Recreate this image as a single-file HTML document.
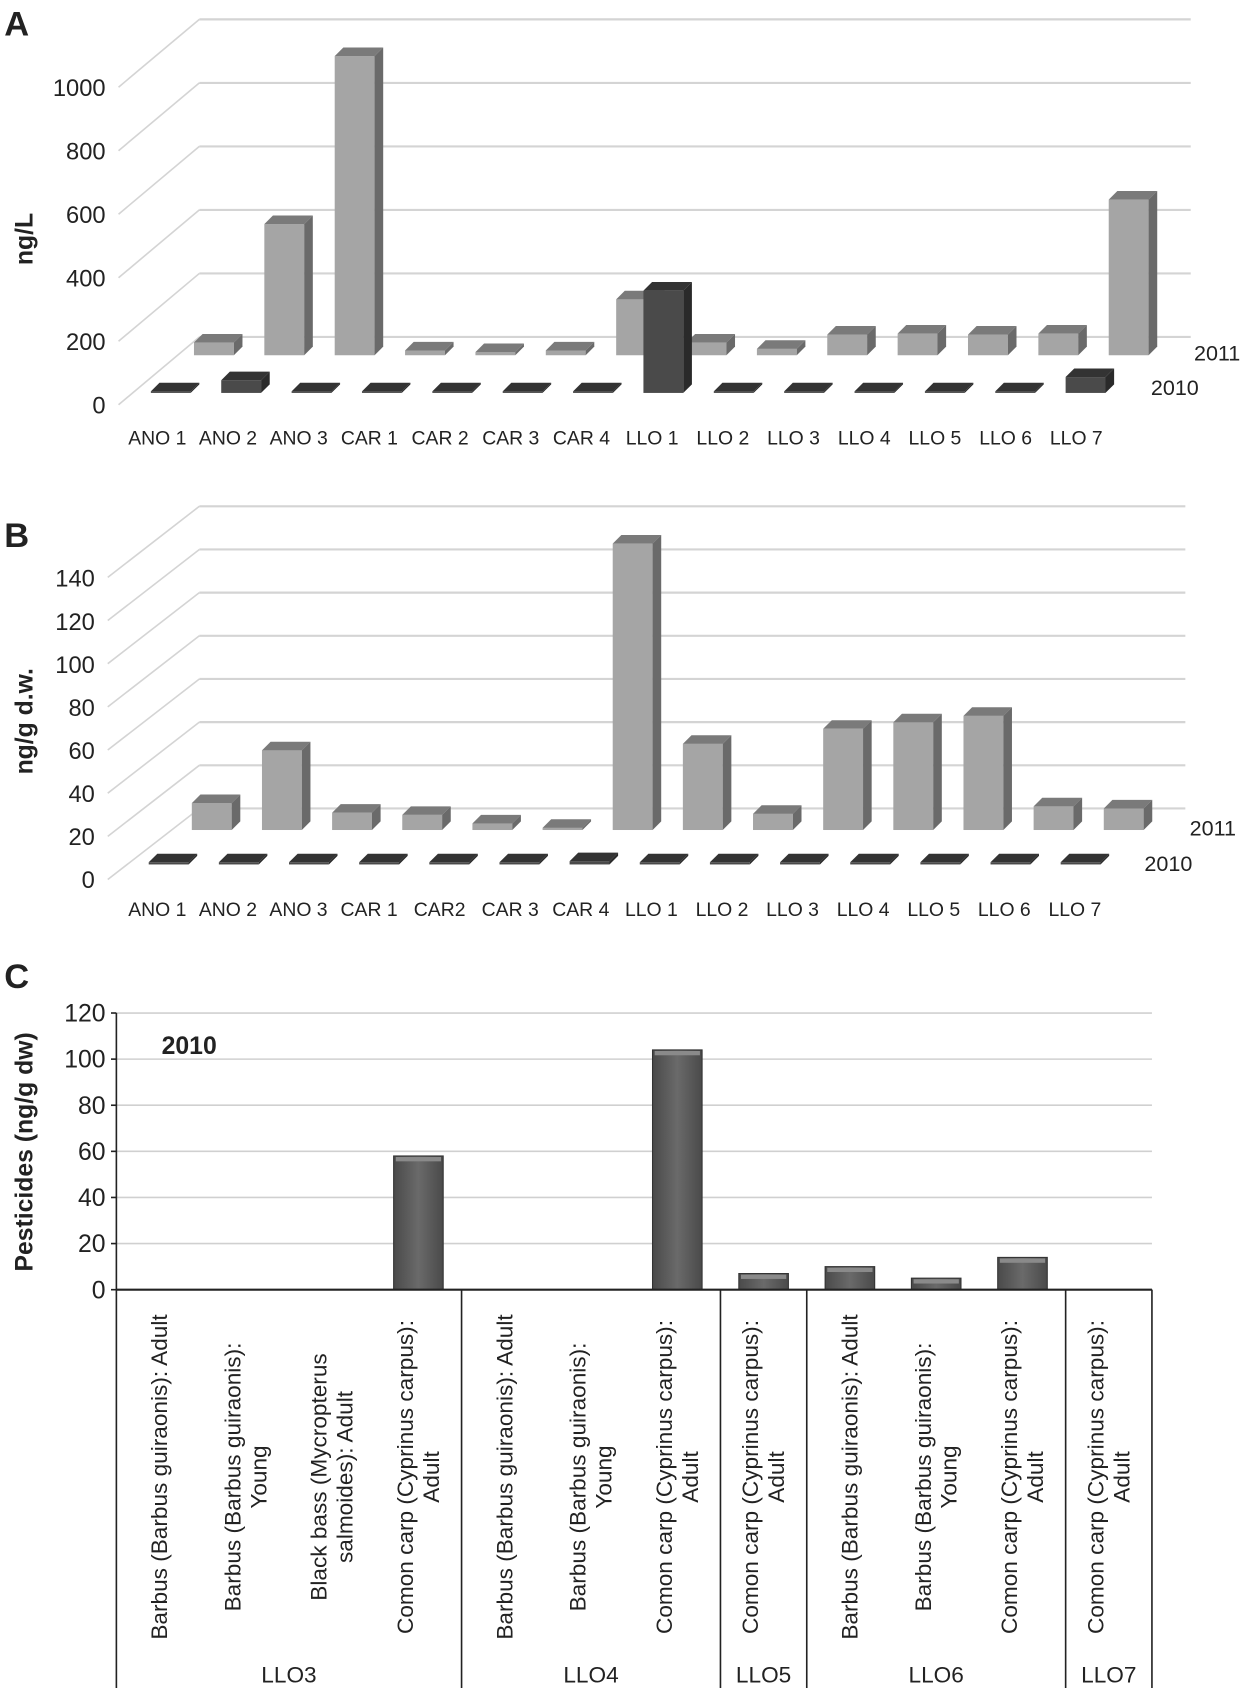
<!DOCTYPE html>
<html><head><meta charset="utf-8"><style>
html,body{margin:0;padding:0;background:#fff}
svg{display:block}
text{font-family:"Liberation Sans Narrow","Liberation Sans",sans-serif;fill:#222}
.b{font-family:"Liberation Sans",sans-serif;font-weight:bold}
</style></head><body>
<svg id="fig" width="1250" height="1688" viewBox="0 0 1160 1568" preserveAspectRatio="none" xmlns="http://www.w3.org/2000/svg">
<text class="b" x="4" y="33" font-size="32">A</text>
<text class="b" x="4" y="508" font-size="32">B</text>
<text class="b" x="4" y="918" font-size="32">C</text>
<g id="chartA"></g>
<g id="chartB"></g>
<g id="chartC"></g>
</svg>
<script>
// ---- Chart A data ----
const catsA = ["ANO 1","ANO 2","ANO 3","CAR 1","CAR 2","CAR 3","CAR 4","LLO 1","LLO 2","LLO 3","LLO 4","LLO 5","LLO 6","LLO 7"];
const a2011 = [40,413,942,15,10,15,176,40,20,65,68,65,68,490];
const a2010 = [5,40,5,5,5,5,5,322,5,5,5,5,5,50];
const ticksA = [0,200,400,600,800,1000];
// ---- Chart B data ----
const catsB = ["ANO 1","ANO 2","ANO 3","CAR 1","CAR2","CAR 3","CAR 4","LLO 1","LLO 2","LLO 3","LLO 4","LLO 5","LLO 6","LLO 7"];
const b2011 = [12.5,37,8,7,3,1,133,40,7.5,47,50,53,11,10];
const b2010 = [1,1,1,1,1,1,1.5,1,1,1,1,1,1,1];
const ticksB = [0,20,40,60,80,100,120,140];
// ---- Chart C data ----
const catsC = ["Barbus (Barbus guiraonis): Adult","Barbus (Barbus guiraonis):|Young","Black bass (Mycropterus|salmoides): Adult","Comon carp (Cyprinus carpus):|Adult","Barbus (Barbus guiraonis): Adult","Barbus (Barbus guiraonis):|Young","Comon carp (Cyprinus carpus):|Adult","Comon carp (Cyprinus carpus):|Adult","Barbus (Barbus guiraonis): Adult","Barbus (Barbus guiraonis):|Young","Comon carp (Cyprinus carpus):|Adult","Comon carp (Cyprinus carpus):|Adult"];
const valsC = [0,0,0,58,0,0,104,7,10,5,14,0];
const groupsC = ["LLO3","LLO4","LLO5","LLO6","LLO7"];
const groupSizesC = [4,3,1,3,1];
const ticksC = [0,20,40,60,80,100,120];

const NS="http://www.w3.org/2000/svg";
function mk(parent,tag,attrs,txt){const e=document.createElementNS(NS,tag);for(const k in attrs)e.setAttribute(k,attrs[k]);if(txt!==undefined)e.textContent=txt;parent.appendChild(e);return e;}

function bar3d(g,x,base,w,h,d,cf,ct,cs,name){
  const grp=mk(g,"g",{});
  
  
  const t=base-h;
  mk(grp,"rect",{x:x,y:t,width:w,height:Math.max(h,0.5),fill:cf});
  mk(grp,"polygon",{points:`${x},${t} ${x+d},${t-d} ${x+w+d},${t-d} ${x+w},${t}`,fill:ct});
  mk(grp,"polygon",{points:`${x+w},${t} ${x+w+d},${t-d} ${x+w+d},${base-d} ${x+w},${base}`,fill:cs});
}

function chart3d(id,cats,s11,s10,ticks,cfg){
  const g=document.getElementById(id);
  const sy=v=>cfg.front0-v*cfg.k;
  for(let i=0;i<cfg.nGrid;i++){
    const yb=cfg.back0-i*cfg.step, yf=cfg.front0-i*cfg.step;
    const l=mk(g,"line",{x1:cfg.bx,y1:yb,x2:cfg.rx,y2:yb,stroke:"#d4d4d4","stroke-width":2});
    
    
    mk(g,"line",{x1:cfg.fx,y1:yf,x2:cfg.bx,y2:yb,stroke:"#d4d4d4","stroke-width":1.5});
  }
  ticks.forEach(t=>{
    const tx=mk(g,"text",{x:cfg.fx-12,y:sy(t)+8,"font-size":22,"text-anchor":"end"},String(t));
    
    
  });
  const yt=mk(g,"text",{class:"b",x:0,y:0,"font-size":23,"text-anchor":"middle",transform:`translate(${cfg.ytx},${cfg.yty}) rotate(-90)`},cfg.ytitle);
  
  
  cats.forEach((c,i)=>{
    bar3d(g,cfg.x11+i*cfg.sp,cfg.base11,cfg.w,s11[i]*cfg.k,cfg.d,"#a5a5a5","#7a7a7a","#6a6a6a","bar-2011-"+i);
  });
  cats.forEach((c,i)=>{
    bar3d(g,cfg.x10+i*cfg.sp,cfg.base10,cfg.w,s10[i]*cfg.k,cfg.d,"#4a4a4a","#333","#2a2a2a","bar-2010-"+i);
  });
  cats.forEach((c,i)=>{
    const tx=mk(g,"text",{x:cfg.lx+i*cfg.lsp,y:cfg.ly,"font-size":18,"text-anchor":"middle"},c);
    
    
  });
  const l1=mk(g,"text",{x:cfg.l11x,y:cfg.l11y,"font-size":20},"2011");
  
  
  const l0=mk(g,"text",{x:cfg.l10x,y:cfg.l10y,"font-size":20},"2010");
  
  
}

chart3d("chartA",catsA,a2011,a2010,ticksA,{front0:376,back0:313,k:0.295,step:59,nGrid:6,fx:110,bx:185,rx:1105,
  x11:180,base11:330,x10:140,base10:365,w:37,d:8,sp:65.3,lx:146,lsp:65.6,ly:413,
  ytitle:"ng/L",ytx:30,yty:222,l11x:1108,l11y:335,l10x:1068,l10y:367});
chart3d("chartB",catsB,b2011,b2010,ticksB,{front0:817,back0:751,k:2.0,step:40.1,nGrid:8,fx:100,bx:185,rx:1100,
  x11:178,base11:771,x10:138,base10:803,w:37,d:8,sp:65.1,lx:146,lsp:65.5,ly:851,
  ytitle:"ng/g d.w.",ytx:30,yty:670,l11x:1104,l11y:776,l10x:1062,l10y:809});

// ---- Chart C ----
(function(){
  const g=document.getElementById("chartC");
  const x0=108,x1=1069,y0=1198,k=(1198-941)/120;
  const cw=(x1-x0)/catsC.length;
  const ys=v=>y0-v*k;
  ticksC.forEach(t=>{
    if(t>0){const l=mk(g,"line",{x1:x0,y1:ys(t),x2:x1,y2:ys(t),stroke:"#d0d0d0","stroke-width":1.5});
      }
    mk(g,"line",{x1:x0-5,y1:ys(t),x2:x0,y2:ys(t),stroke:"#222","stroke-width":1.5});
    const tx=mk(g,"text",{x:x0-10,y:ys(t)+8,"font-size":23,"text-anchor":"end"},String(t));
    
  });
  const defs=mk(g,"defs",{});
  const gr=mk(defs,"linearGradient",{id:"cg",x1:0,y1:0,x2:1,y2:0});
  mk(gr,"stop",{offset:"0","stop-color":"#4a4a4a"});
  mk(gr,"stop",{offset:"0.5","stop-color":"#6a6a6a"});
  mk(gr,"stop",{offset:"1","stop-color":"#4a4a4a"});
  valsC.forEach((v,i)=>{
    if(v<=0)return;
    const cx=x0+cw*(i+0.5),w=46,t=ys(v);
    const r=mk(g,"rect",{x:cx-w/2,y:t,width:w,height:y0-t,fill:"url(#cg)",stroke:"#333","stroke-width":1});
    
    mk(g,"rect",{x:cx-w/2+2,y:t+1,width:w-4,height:4,fill:"#8a8a8a"});
  });
  mk(g,"line",{x1:x0,y1:941,x2:x0,y2:y0,stroke:"#222","stroke-width":1.5});
  mk(g,"line",{x1:x0,y1:y0,x2:x1,y2:y0,stroke:"#222","stroke-width":2});
  catsC.forEach((c,i)=>{
    const cx=x0+cw*(i+0.5);const lines=c.split("|");
    lines.forEach((ln,j)=>{
      const off=lines.length===1?0:(j===0?-12:12);
      const tx=mk(g,"text",{x:0,y:0,"font-size":21,"text-anchor":"middle",
        style:'font-family:"Liberation Sans",sans-serif',
        transform:`translate(${cx+off+7},1372) rotate(-90)`},ln);
      
    });
  });
  let acc=0;
  mk(g,"line",{x1:x0,y1:y0,x2:x0,y2:1568,stroke:"#222","stroke-width":1.5});
  groupsC.forEach((gname,gi)=>{
    const s=x0+acc*cw;acc+=groupSizesC[gi];const e=x0+acc*cw;
    mk(g,"line",{x1:e,y1:y0,x2:e,y2:1568,stroke:"#222","stroke-width":1.5});
    const tx=mk(g,"text",{x:(s+e)/2,y:1563,"font-size":21,"text-anchor":"middle"},gname);
    
  });
  const t=mk(g,"text",{class:"b",x:150,y:979,"font-size":23},"2010");
  
  const yt=mk(g,"text",{class:"b",x:0,y:0,"font-size":23,"text-anchor":"middle",transform:"translate(30,1070) rotate(-90)"},"Pesticides (ng/g dw)");
  
})();
</script>
</body></html>
